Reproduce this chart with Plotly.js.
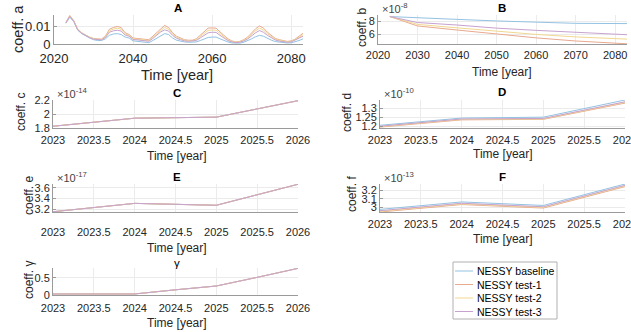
<!DOCTYPE html>
<html><head><meta charset="utf-8">
<script src="https://cdn.plot.ly/plotly-3.0.1.min.js"></script>
<style>html,body{margin:0;padding:0;background:#fff}#chart{width:631px;height:332px}</style>
</head><body><div id="chart"></div>
<script>
// ---------- data ----------
const seriesNames = ['NESSY baseline', 'NESSY test-1', 'NESSY test-2', 'NESSY test-3'];
const seriesColors = ['#93c2e2', '#e8a98e', '#f1d890', '#c7a2cf'];

// Panel A (coeff. a), yearly
const yearsA = [2023,2024,2025,2026,2027,2028,2029,2030,2031,2032,2033,2034,2035,2036,2037,2038,2039,2040,2041,2042,2043,2044,2045,2046,2047,2048,2049,2050,2051,2052,2053,2054,2055,2056,2057,2058,2059,2060,2061,2062,2063,2064,2065,2066,2067,2068,2069,2070,2071,2072,2073,2074,2075,2076,2077,2078,2079,2080,2081,2082,2083];
const aBaseline = [0.0120,0.0155,0.0130,0.0080,0.0060,0.0045,0.0035,0.0025,0.0020,0.0020,0.0030,0.0050,0.0058,0.0060,0.0055,0.0040,0.0035,0.0018,0.0016,0.0015,0.0010,0.0008,0.0020,0.0035,0.0050,0.0060,0.0055,0.0035,0.0022,0.0015,0.0012,0.0010,0.0010,0.0012,0.0020,0.0030,0.0038,0.0040,0.0040,0.0030,0.0020,0.0012,0.0006,0.0004,0.0005,0.0010,0.0018,0.0030,0.0042,0.0050,0.0045,0.0033,0.0022,0.0014,0.0010,0.0008,0.0006,0.0007,0.0012,0.0020,0.0030];
const aTest1 = [0.0125,0.0165,0.0135,0.0085,0.0065,0.0050,0.0040,0.0032,0.0028,0.0028,0.0045,0.0085,0.0095,0.0102,0.0095,0.0065,0.0055,0.0035,0.0032,0.0030,0.0025,0.0025,0.0045,0.0065,0.0090,0.0108,0.0095,0.0065,0.0045,0.0035,0.0025,0.0022,0.0022,0.0030,0.0050,0.0075,0.0092,0.0093,0.0092,0.0070,0.0050,0.0030,0.0018,0.0012,0.0015,0.0025,0.0040,0.0065,0.0088,0.0105,0.0092,0.0068,0.0048,0.0032,0.0025,0.0020,0.0015,0.0018,0.0028,0.0045,0.0062];
const aTest2 = [0.0124,0.0163,0.0134,0.0084,0.0064,0.0049,0.0039,0.0030,0.0026,0.0026,0.0041,0.0077,0.0086,0.0092,0.0085,0.0059,0.0050,0.0031,0.0028,0.0026,0.0021,0.0020,0.0039,0.0058,0.0080,0.0096,0.0085,0.0058,0.0039,0.0030,0.0022,0.0019,0.0019,0.0025,0.0043,0.0064,0.0079,0.0081,0.0080,0.0060,0.0043,0.0025,0.0015,0.0010,0.0013,0.0021,0.0035,0.0057,0.0077,0.0092,0.0080,0.0059,0.0042,0.0028,0.0021,0.0017,0.0013,0.0015,0.0025,0.0038,0.0054];
const aTest3 = [0.0123,0.0160,0.0132,0.0082,0.0062,0.0047,0.0037,0.0028,0.0024,0.0024,0.0037,0.0068,0.0076,0.0080,0.0075,0.0052,0.0045,0.0026,0.0024,0.0022,0.0017,0.0016,0.0032,0.0050,0.0070,0.0082,0.0075,0.0050,0.0033,0.0025,0.0018,0.0016,0.0016,0.0020,0.0035,0.0052,0.0065,0.0068,0.0067,0.0050,0.0035,0.0020,0.0012,0.0008,0.0010,0.0017,0.0029,0.0048,0.0065,0.0078,0.0068,0.0050,0.0035,0.0023,0.0017,0.0014,0.0010,0.0012,0.0022,0.0033,0.0045];

// Panel B (coeff. b)
const yearsB = [2023, 2030, 2040, 2050, 2060, 2070, 2083];
const bBaseline = [8.8e-8, 8.65e-8, 8.35e-8, 8.1e-8, 7.9e-8, 7.72e-8, 7.68e-8];
const bTest1 = [8.8e-8, 7.3e-8, 6.65e-8, 6.0e-8, 5.4e-8, 4.9e-8, 4.45e-8];
const bTest2 = [8.8e-8, 7.55e-8, 7.0e-8, 6.45e-8, 5.95e-8, 5.55e-8, 5.2e-8];
const bTest3 = [8.8e-8, 7.85e-8, 7.45e-8, 6.95e-8, 6.6e-8, 6.25e-8, 5.9e-8];

// Panels C–γ, yearly 2023–2026
const yearsShort = [2023, 2024, 2025, 2026];
const cAll = [1.825e-14, 1.94e-14, 1.955e-14, 2.19e-14];
const dBaseline = [1.205e-10, 1.245e-10, 1.25e-10, 1.345e-10];
const dTest1 = [1.195e-10, 1.235e-10, 1.238e-10, 1.328e-10];
const dTest2 = [1.198e-10, 1.238e-10, 1.240e-10, 1.332e-10];
const dTest3 = [1.200e-10, 1.240e-10, 1.243e-10, 1.335e-10];
const eAll = [3.155e-17, 3.31e-17, 3.275e-17, 3.665e-17];
const fBaseline = [2.98e-13, 3.065e-13, 3.025e-13, 3.27e-13];
const fTest1 = [2.95e-13, 3.035e-13, 2.995e-13, 3.24e-13];
const fTest2 = [2.958e-13, 3.043e-13, 3.003e-13, 3.248e-13];
const fTest3 = [2.965e-13, 3.05e-13, 3.01e-13, 3.255e-13];
const yearsG = [2023, 2024, 2024.5, 2025, 2025.5, 2026];
const gAll = [0.03, 0.03, 0.15, 0.26, 0.51, 0.77];

// tick labels
const longYearTicks = [2020, 2030, 2040, 2050, 2060, 2070, 2080];
const aYearTicks = [2020, 2040, 2060, 2080];
const shortYearTicks = [2023, 2023.5, 2024, 2024.5, 2025, 2025.5, 2026];
const shortYearLabels = ['2023', '2023.5', '2024', '2024.5', '2025', '2025.5', '2026'];

// ---------- layout helpers ----------
const W = 631, H = 332;
const px = v => v / W;
const py = v => 1 - v / H;
const FONT = 'Liberation Sans, Arial, Helvetica, sans-serif';
const TXT = '#262626';

// xgap: spacing between axis line and x tick labels
const panels = [
  {id:'', x:[54,303], y:[15,44], xr:[2020,2083], yr:[0,0.0168], xt:aYearTicks, xtt:aYearTicks.map(String), yt:[0,0.01], ytt:['0','0.01'],
   ylab:'coeff. a', yl:[18,29], xl:[177,75.5], title:'<b>A</b>', tc:178, ty:8, big:true, xgap:2,
   data:[[yearsA,aBaseline],[yearsA,aTest1],[yearsA,aTest2],[yearsA,aTest3]]},
  {id:'2', x:[378,627], y:[15,44], xr:[2020,2083], yr:[4.42e-8,9.05e-8], xt:longYearTicks, xtt:longYearTicks.map(String), yt:[6e-8,8e-8], ytt:['6','8'],
   ylab:'coeff. b', yl:[362,28], xl:[502,71.5], title:'<b>B</b>', tc:502, ty:8, exp:'-8', xgap:1,
   data:[[yearsB,bBaseline],[yearsB,bTest1],[yearsB,bTest2],[yearsB,bTest3]]},
  {id:'3', x:[53,298], y:[100,128], xr:[2023,2026], yr:[1.8e-14,2.2e-14], xt:shortYearTicks, xtt:shortYearLabels, yt:[1.8e-14,2e-14,2.2e-14], ytt:['1.8','2','2.2'],
   ylab:'coeff. c', yl:[21,112], xl:[177,156], title:'<b>C</b>', tc:177, ty:93, exp:'-14', xgap:2,
   data:[[yearsShort,cAll],[yearsShort,cAll],[yearsShort,cAll],[yearsShort,cAll]]},
  {id:'4', x:[380,625], y:[100,128], xr:[2023,2026], yr:[1.19e-10,1.345e-10], xt:shortYearTicks, xtt:shortYearLabels, yt:[1.2e-10,1.25e-10,1.3e-10], ytt:['1.2','1.25','1.3'],
   ylab:'coeff. d', yl:[347,113], xl:[503,154], title:'<b>D</b>', tc:502, ty:92, exp:'-10', xgap:2,
   data:[[yearsShort,dBaseline],[yearsShort,dTest1],[yearsShort,dTest2],[yearsShort,dTest3]]},
  {id:'5', x:[53,298], y:[184,212], xr:[2023,2026], yr:[3.15e-17,3.67e-17], xt:shortYearTicks, xtt:shortYearLabels, yt:[3.2e-17,3.4e-17,3.6e-17], ytt:['3.2','3.4','3.6'],
   ylab:'coeff. e', yl:[29,196], xl:[177,248], title:'<b>E</b>', tc:177, ty:177, exp:'-17', xgap:10,
   data:[[yearsShort,eAll],[yearsShort,eAll],[yearsShort,eAll],[yearsShort,eAll]]},
  {id:'6', x:[380,625], y:[184,212], xr:[2023,2026], yr:[2.95e-13,3.27e-13], xt:shortYearTicks, xtt:shortYearLabels, yt:[3e-13,3.1e-13,3.2e-13], ytt:['3','3.1','3.2'],
   ylab:'coeff. f', yl:[352,194], xl:[503,239], title:'<b>F</b>', tc:502, ty:177, exp:'-13', xgap:2,
   data:[[yearsShort,fBaseline],[yearsShort,fTest1],[yearsShort,fTest2],[yearsShort,fTest3]]},
  {id:'7', x:[53,298], y:[268,295], xr:[2023,2026], yr:[0,0.78], xt:shortYearTicks, xtt:shortYearLabels, yt:[0,0.5], ytt:['0','0.5'],
   ylab:'coeff. γ', yl:[29,280], xl:[177,323], title:'γ', tc:177, ty:263, xgap:3,
   data:[[yearsG,gAll],[yearsG,gAll],[yearsG,gAll],[yearsG,gAll]]}
];

const traces = [];
const layout = {
  width: W, height: H, margin:{l:0,r:0,t:0,b:0},
  paper_bgcolor:'#fff', plot_bgcolor:'#fff', showlegend:false,
  font:{family:FONT, color:TXT, size:11},
  annotations:[], shapes:[]
};

panels.forEach(p => {
  const tf = p.big ? 13 : 11;
  const lf = p.big ? 14.5 : 12;
  p.data.forEach((d, i) => {
    traces.push({x:d[0], y:d[1], type:'scatter', mode:'lines', name:seriesNames[i],
      line:{color:seriesColors[i], width:1}, xaxis:'x'+p.id, yaxis:'y'+p.id, hoverinfo:'skip'});
  });
  const common = {showgrid:true, gridcolor:'#ebebeb', gridwidth:1, zeroline:false, showline:true, linecolor:'#9a9a9a', linewidth:1,
    automargin:false, ticklabeloverflow:'allow', tickfont:{size:tf, family:FONT, color:TXT}};
  layout['xaxis'+p.id] = Object.assign({}, common, {domain:[px(p.x[0]), px(p.x[1])], range:p.xr, tickmode:'array',
    tickvals:p.xt, ticktext:p.xtt, anchor:'y'+p.id, ticks:'outside', ticklen:p.xgap, tickcolor:'rgba(0,0,0,0)'});
  layout['yaxis'+p.id] = Object.assign({}, common, {domain:[py(p.y[1]), py(p.y[0])], range:p.yr, tickmode:'array',
    tickvals:p.yt, ticktext:p.ytt, anchor:'x'+p.id, ticks:'inside', ticklen:3, tickcolor:'#9a9a9a'});
  // titles
  layout.annotations.push({xref:'paper', yref:'paper', x:px(p.tc), y:py(p.ty), text:p.title, showarrow:false,
    xanchor:'center', yanchor:'middle', font:{size:11.5, family:FONT, color:'#000'}});
  layout.annotations.push({xref:'paper', yref:'paper', x:px(p.xl[0]), y:py(p.xl[1]), text:'Time [year]', showarrow:false,
    xanchor:'center', yanchor:'middle', font:{size:lf, family:FONT, color:TXT}});
  layout.annotations.push({xref:'paper', yref:'paper', x:px(p.yl[0]), y:py(p.yl[1]), text:p.ylab, showarrow:false, textangle:-90,
    xanchor:'center', yanchor:'middle', font:{size:lf, family:FONT, color:TXT}});
  if (p.exp) {
    layout.annotations.push({xref:'paper', yref:'paper', x:px(p.x[0]+2), y:py(p.y[0]-7), text:'×10<sup>'+p.exp+'</sup>', showarrow:false,
      xanchor:'left', yanchor:'middle', font:{size:11, family:FONT, color:'#444'}});
  }
});

// legend box (drawn manually to match compact MATLAB legend)
const lg = {x0:453, x1:557, y0:262, y1:319};
layout.shapes.push({type:'rect', xref:'paper', yref:'paper', x0:px(lg.x0), x1:px(lg.x1), y0:py(lg.y1), y1:py(lg.y0),
  line:{color:'#b0b0b0', width:1}, fillcolor:'#fff', layer:'above'});
seriesNames.forEach((n, i) => {
  const yy = 271 + i * 13.5;
  layout.shapes.push({type:'line', xref:'paper', yref:'paper', x0:px(455), x1:px(473), y0:py(yy), y1:py(yy),
    line:{color:seriesColors[i], width:1}, layer:'above'});
  layout.annotations.push({xref:'paper', yref:'paper', x:px(475), y:py(yy), text:n, showarrow:false,
    xanchor:'left', yanchor:'middle', font:{size:10.5, family:FONT, color:'#000'}});
});

Plotly.newPlot('chart', traces, layout, {staticPlot:true, displayModeBar:false});
</script></body></html>
